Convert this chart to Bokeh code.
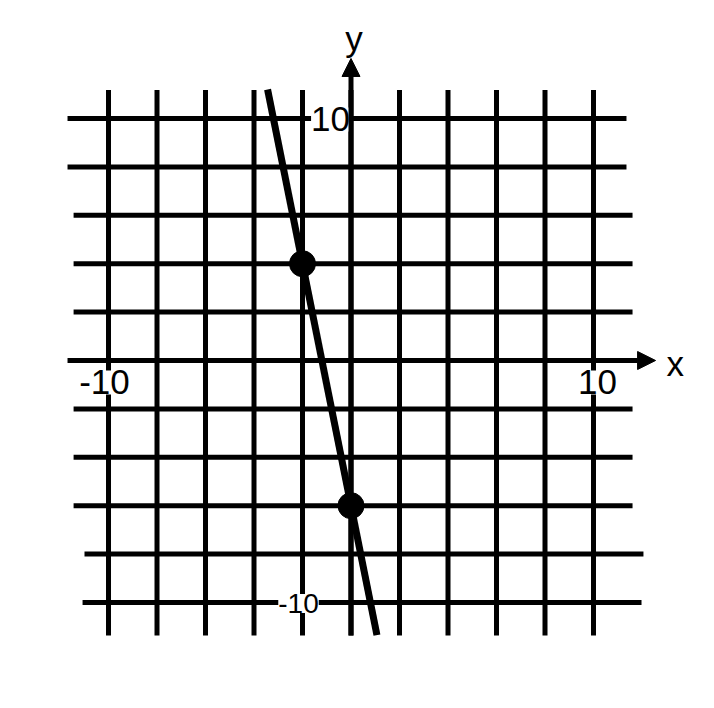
from bokeh.plotting import figure
from bokeh.models import Range1d, Label, Arrow, NormalHead
from bokeh.embed import file_html
from bokeh.resources import INLINE

# ---- data ----
grid_x = [-10, -8, -6, -4, -2, 0, 2, 4, 6, 8, 10]          # vertical grid lines
grid_y = [10, 8, 6, 4, 2, -2, -4, -6, -8, -10]             # horizontal grid lines (x-axis drawn separately)
h_left = [-11.69, -11.69, -11.44, -11.44, -11.44, -11.44, -11.44, -11.44, -10.99, -11.07]
h_right = [11.36, 11.36, 11.61, 11.61, 11.61, 11.61, 11.61, 11.61, 12.06, 11.98]
v_bottom = [-11.36] * len(grid_x)
v_top = [11.18] * len(grid_x)
xaxis_span = [-11.69, 12.56]
yaxis_span = [-11.36, 12.48]

line_x = [-3.44, 1.07]     # y = -5x - 6
line_y = [11.2, -11.35]
pts_x = [-2, 0]
pts_y = [4, -6]

tick_labels = ["10", "-10", "10", "-10"]

FONT = "Liberation Sans"

p = figure(width=698, height=692, output_backend="svg", toolbar_location=None,
           x_axis_type=None, y_axis_type=None, min_border=0,
           x_range=Range1d(-14.454, 14.33), y_range=Range1d(-13.72, 14.876))
p.outline_line_color = None
p.background_fill_color = "white"
p.border_fill_color = "white"

# grid
p.segment(x0=grid_x, y0=v_bottom, x1=grid_x, y1=v_top, line_width=5, line_color="black")
p.segment(x0=h_left, y0=grid_y, x1=h_right, y1=grid_y, line_width=5, line_color="black")

# labels with white backgrounds
lab_common = dict(text_font=FONT, text_color="black", background_fill_color="white", padding=0)
p.add_layout(Label(x=0, y=10, text=tick_labels[0], text_align="right", text_baseline="middle",
                   x_offset=-1, y_offset=-1, text_font_size="35px", **lab_common))
p.add_layout(Label(x=-10, y=0, text=tick_labels[1], text_align="center", text_baseline="middle",
                   x_offset=-4, y_offset=-22, text_font_size="35px", **lab_common))
p.add_layout(Label(x=10, y=0, text=tick_labels[2], text_align="center", text_baseline="middle",
                   x_offset=4, y_offset=-22, text_font_size="35px", **lab_common))
p.add_layout(Label(x=-2, y=-10, text=tick_labels[3], text_align="center", text_baseline="middle",
                   x_offset=-4, y_offset=-1, text_font_size="28px", **lab_common))

# axes with arrows
p.add_layout(Arrow(x_start=xaxis_span[0], y_start=0, x_end=xaxis_span[1], y_end=0,
                   line_width=5, line_color="black",
                   end=NormalHead(size=18, fill_color="black", line_color="black", line_width=1)))
p.add_layout(Arrow(x_start=0, y_start=yaxis_span[0], x_end=0, y_end=yaxis_span[1],
                   line_width=5, line_color="black",
                   end=NormalHead(size=18, fill_color="black", line_color="black", line_width=1)))

p.add_layout(Label(x=0, y=yaxis_span[1], text="y", text_align="center", text_baseline="bottom",
                   x_offset=3, y_offset=0, text_font_size="35px", text_font=FONT, text_color="black"))
p.add_layout(Label(x=xaxis_span[1], y=0, text="x", text_align="left", text_baseline="middle",
                   x_offset=11, y_offset=-3, text_font_size="35px", text_font=FONT, text_color="black"))

# line and points
p.line(line_x, line_y, line_width=7, line_color="black")
p.scatter(pts_x, pts_y, size=26, fill_color="black", line_color="black")

open("out.html", "w").write(file_html(p, INLINE))
